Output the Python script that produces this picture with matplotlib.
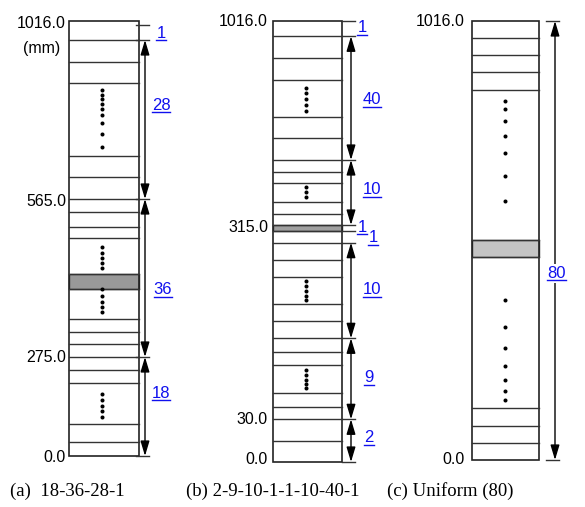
import matplotlib.pyplot as plt
from matplotlib.patches import Rectangle

W, H = 585, 507
blue = '#1010ee'

# ---- panel (a) 18-36-28-1 (schematic positions, px from top) ----
col_a = (69, 139)
rows_a = [21, 40.3, 61.7, 82.7, 156, 177.3, 199, 212.3, 226.7, 237.7, 274.3, 288.7,
          319.3, 331.7, 344.3, 357.3, 370, 382.7, 424.3, 441.7, 456]
gray_a = (274.3, 288.7)
dots_a = [90, 95, 99.3, 104, 109, 115, 123.3, 134, 147.3,
          247.3, 252.7, 257.7, 262.7, 268,
          288.7, 296, 301.7, 306.7, 312,
          394, 400, 405.7, 411, 416.7]
ticks_a = ['1016.0', '565.0', '275.0', '0.0']
ticks_a_y = [24, 202, 357, 458]
bounds_a = [25, 40, 199, 357, 456]
counts_a = ['1', '28', '36', '18']
lab_a = [(161, 33), (161, 105), (163, 290), (161, 393)]

# ---- panel (b) 2-9-10-1-1-10-40-1 ----
col_b = (272.7, 342.3)
rows_b = [21, 36.3, 57.7, 80, 117, 138.3, 160, 171.7, 183.3, 202.3, 213.7, 225, 231,
          242.7, 260, 277.3, 304, 321, 338.3, 351.7, 365, 392.7, 406.7, 419.3, 440.7, 462]
gray_b = (225, 231)
dots_b = [87.7, 93.3, 99.3, 105, 110.7, 186.7, 191.7, 197.3,
          281, 286, 291, 296, 300, 370, 375, 380, 384, 388.3]
ticks_b = ['1016.0', '315.0', '30.0', '0.0']
ticks_b_y = [22, 228, 420, 460]
bounds_b = [21, 36.3, 160, 225, 231, 242.7, 338.3, 419.3, 462]
counts_b = ['1', '40', '10', '1', '1', '10', '9', '2']
lab_b = [(362, 28), (372, 100), (372, 190), (362, 227), (373, 238),
         (372, 290), (369, 378), (369, 438)]

# ---- panel (c) Uniform (80) ----
col_c = (472, 538.7)
rows_c = [21, 38.3, 55.3, 72.3, 89.7, 240, 257.3, 408.3, 425.7, 442.7, 460]
gray_c = (240, 257.3)
dots_c = [100.7, 109.3, 121, 136, 153.3, 175.7, 200.7,
          300, 327, 348.3, 365.7, 379.7, 391, 399.7]
ticks_c = ['1016.0', '0.0']
ticks_c_y = [22, 460]
bounds_c = [21, 460]
counts_c = ['80']
lab_c = [(556.5, 273)]

captions = ['(a)  18-36-28-1', '(b) 2-9-10-1-1-10-40-1', '(c) Uniform (80)']
caption_x = [10, 186, 387]

panels = [
    dict(col=col_a, rows=rows_a, gray=gray_a, gc='#999999', dots=dots_a, dx=102,
         ticks=ticks_a, ty=ticks_a_y, tx=66, bounds=bounds_a, counts=counts_a,
         labs=lab_a, ax_x=145),
    dict(col=col_b, rows=rows_b, gray=gray_b, gc='#a0a0a0', dots=dots_b, dx=306,
         ticks=ticks_b, ty=ticks_b_y, tx=268, bounds=bounds_b, counts=counts_b,
         labs=lab_b, ax_x=351),
    dict(col=col_c, rows=rows_c, gray=gray_c, gc='#c4c4c4', dots=dots_c, dx=505,
         ticks=ticks_c, ty=ticks_c_y, tx=465, bounds=bounds_c, counts=counts_c,
         labs=lab_c, ax_x=555),
]

plt.rcParams['font.family'] = 'Liberation Sans'
fig = plt.figure(figsize=(W / 100, H / 100), dpi=100)
ax = fig.add_axes([0, 0, 1, 1])
ax.set_xlim(0, W)
ax.set_ylim(H, 0)
ax.axis('off')

labels = []
for p in panels:
    x0, x1 = p['col']
    top, bot = p['rows'][0], p['rows'][-1]
    g0, g1 = p['gray']
    ax.add_patch(Rectangle((x0, g0), x1 - x0, g1 - g0, fc=p['gc'], ec='#333333', lw=1))
    ax.add_patch(Rectangle((x0, top), x1 - x0, bot - top, fc='none', ec='#222222', lw=1.2))
    for r in p['rows'][1:-1]:
        ax.plot([x0, x1], [r, r], color='#333333', lw=1)
    ax.plot([p['dx']] * len(p['dots']), p['dots'], 'o', color='k', ms=2.9, mew=0)

    for s, y in zip(p['ticks'], p['ty']):
        ax.text(p['tx'], y, s, ha='right', va='center', fontsize=11.5)

    ax_x = p['ax_x']
    for b in p['bounds']:
        ax.plot([ax_x - 9, ax_x + 4], [b, b], color='#333333', lw=1)
    for i, c in enumerate(p['counts']):
        if int(c) > 1:
            ax.annotate('', xy=(ax_x, p['bounds'][i + 1]), xytext=(ax_x, p['bounds'][i]),
                        arrowprops=dict(arrowstyle='<|-|>,head_length=0.9,head_width=0.27',
                                        color='k', lw=1, shrinkA=0, shrinkB=0,
                                        mutation_scale=10))
        lx, ly = p['labs'][i]
        t = ax.text(lx, ly, c, ha='center', va='center', fontsize=12, color=blue, zorder=5)
        labels.append(t)

ax.text(60, 48, '(mm)', ha='right', va='center', fontsize=11.5)

for s, x in zip(captions, caption_x):
    ax.text(x, 491, s, ha='left', va='center', fontsize=13.5, family='Liberation Serif')

# underline the blue counts
fig.canvas.draw()
inv = ax.transData.inverted()
r = fig.canvas.get_renderer()
for t in labels:
    bb = t.get_window_extent(r)
    (ux0, uy), (ux1, _) = inv.transform([(bb.x0, bb.y0 + 1), (bb.x1, bb.y0 + 1)])
    if t.get_text() == '80':
        (_, ytop) = inv.transform((bb.x0, bb.y1))
        ax.add_patch(Rectangle((ux0 - 1, ytop - 2), ux1 - ux0 + 2, uy - ytop + 5,
                               fc='white', ec='none', zorder=4))
    ax.plot([ux0, ux1], [uy, uy], color=blue, lw=1, zorder=6)

fig.savefig('out.png', dpi=100)
